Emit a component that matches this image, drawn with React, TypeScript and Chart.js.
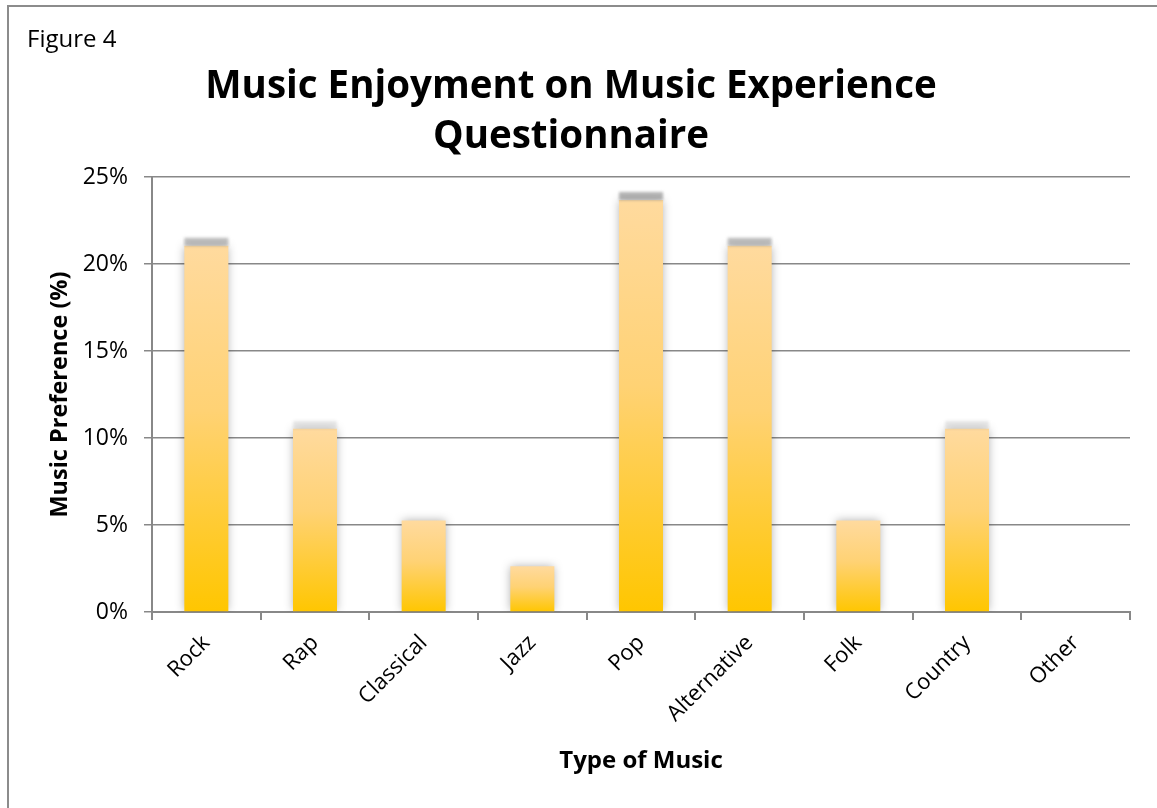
import React, { useEffect, useRef } from "react";
import { Chart, registerables } from "chart.js";

Chart.register(...registerables);

const categories = ["Rock", "Rap", "Classical", "Jazz", "Pop", "Alternative", "Folk", "Country", "Other"];
const preference = [21.05, 10.53, 5.26, 2.63, 23.68, 21.05, 5.26, 10.53, 0];
const yTicks = [0, 5, 10, 15, 20, 25];
const titleLines = ["Music Enjoyment on Music Experience", "Questionnaire"];
const figureLabel = "Figure 4";
const xTitle = "Type of Music";
const yTitle = "Music Preference (%)";

const FONT = "'Open Sans', Lato, sans-serif";
const GRID = "#888888";

export default function App() {
  const ref = useRef<HTMLCanvasElement | null>(null);

  useEffect(() => {
    if (!ref.current) return;

    const extras = {
      id: "extras",
      beforeDatasetsDraw(chart: any) {
        const ctx = chart.ctx;
        ctx.save();
        ctx.shadowColor = "rgba(0,0,0,0.32)";
        ctx.shadowBlur = 9;
      },
      afterDatasetsDraw(chart: any) {
        const ctx = chart.ctx;
        ctx.restore();
        const meta = chart.getDatasetMeta(0);
        meta.data.forEach((bar: any, i: number) => {
          const v = preference[i];
          const a = Math.max(0, (v - 5) / 20) * 0.65;
          if (a <= 0.02) return;
          const p = bar.getProps(["x", "y", "width"], true);
          ctx.save();
          ctx.filter = "blur(1.5px)";
          ctx.fillStyle = `rgba(130,130,130,${a})`;
          ctx.fillRect(p.x - p.width / 2, p.y - 8, p.width, 8);
          ctx.restore();
        });
      },
      afterDraw(chart: any) {
        const ctx = chart.ctx;
        ctx.save();
        ctx.fillStyle = "#000";
        ctx.font = `24px ${FONT}`;
        ctx.textBaseline = "alphabetic";
        ctx.textAlign = "left";
        ctx.fillText(figureLabel, 27, 47);
        ctx.restore();
      },
    };

    const chart = new Chart(ref.current, {
      type: "bar",
      data: {
        labels: categories,
        datasets: [
          {
            data: preference,
            borderWidth: 0,
            barPercentage: 0.405,
            categoryPercentage: 1,
            backgroundColor: (c: any) => {
              const ch = c.chart;
              if (!ch.chartArea || c.type !== "data") return "#FFCC55";
              const ys = ch.scales.y;
              const top = ys.getPixelForValue(c.raw);
              const base = ys.getPixelForValue(0);
              if (!isFinite(top) || base - top < 1) return "#FFC800";
              const g = ch.ctx.createLinearGradient(0, top, 0, base);
              g.addColorStop(0, "#FFDA9E");
              g.addColorStop(0.45, "#FFD274");
              g.addColorStop(1, "#FFC600");
              return g;
            },
          },
        ],
      },
      options: {
        animation: false,
        responsive: true,
        maintainAspectRatio: false,
        layout: { padding: { left: 12, right: 27, top: 0, bottom: 0 } },
        plugins: {
          legend: { display: false },
          tooltip: { enabled: false },
          title: {
            display: true,
            text: titleLines,
            color: "#000",
            font: { family: FONT, size: 38.5, weight: "bold", lineHeight: 1.3 },
            padding: { top: 62, bottom: 15 },
          },
        },
        scales: {
          x: {
            offset: true,
            afterFit: (s: any) => {
              s.height = 196;
            },
            grid: {
              display: true,
              offset: true,
              drawOnChartArea: false,
              drawTicks: true,
              tickLength: 8,
              color: GRID,
              lineWidth: 2,
            },
            border: { display: true, color: GRID, width: 2 },
            ticks: {
              color: "#000",
              font: { family: FONT, size: 22 },
              minRotation: 45,
              maxRotation: 45,
              padding: 10,
              autoSkip: false,
            },
            title: {
              display: true,
              text: xTitle,
              color: "#000",
              font: { family: FONT, size: 24, weight: "bold" },
              padding: { top: 0, bottom: 32 },
            },
          },
          y: {
            min: 0,
            max: 25,
            afterFit: (s: any) => {
              s.width = 140;
            },
            afterBuildTicks: (s: any) => {
              s.ticks = yTicks.map((v) => ({ value: v }));
            },
            grid: {
              color: GRID,
              lineWidth: 1.5,
              tickLength: 8,
              drawTicks: true,
            },
            border: { display: true, color: GRID, width: 2 },
            ticks: {
              color: "#000",
              font: { family: FONT, size: 23 },
              padding: 16,
              callback: (v: any) => `${v}%`,
            },
            title: {
              display: true,
              text: yTitle,
              color: "#000",
              font: { family: FONT, size: 23.5, weight: "bold" },
              padding: { top: 34, bottom: 0 },
            },
          },
        },
      },
      plugins: [extras],
    });

    return () => chart.destroy();
  }, []);

  return (
    <div style={{ position: "fixed", left: 0, top: 0, width: 1157, height: 808, background: "#fff" }}>
      <div style={{ position: "absolute", left: 7, top: 5, right: 0, height: 2, background: "#8c8c8c" }} />
      <div style={{ position: "absolute", left: 7, top: 5, bottom: 0, width: 2, background: "#8c8c8c" }} />
      <div style={{ position: "absolute", left: 0, top: 0, width: 1157, height: 808 }}>
        <canvas ref={ref} />
      </div>
    </div>
  );
}
